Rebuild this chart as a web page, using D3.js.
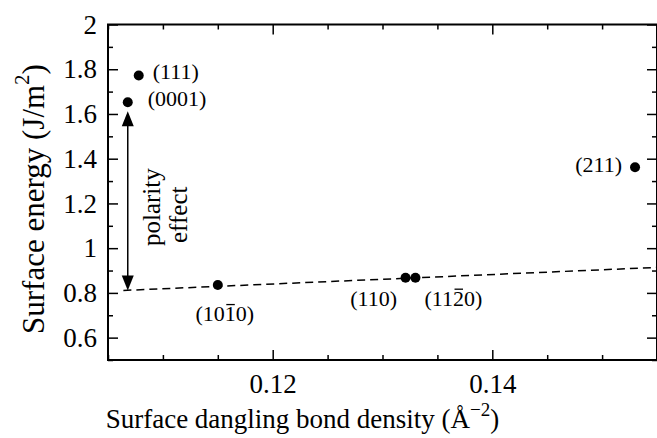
<!DOCTYPE html>
<html><head><meta charset="utf-8">
<script src="https://cdn.jsdelivr.net/npm/d3@7"></script>
<style>
body{margin:0;background:#fff;}
svg text{font-family:"Liberation Serif","Times New Roman",serif;fill:#000;}
</style></head>
<body>
<svg id="chart" width="657" height="438"></svg>
<script>
// Data
const surfaces = ["(111)", "(0001)", "(211)", "(1010)", "(110)", "(1120)"];
const overlineIndex = [-1, -1, -1, 3, -1, 3]; // character carrying the bar
const bondDensity = [0.1078, 0.1068, 0.1530, 0.1150, 0.1321, 0.1330];
const surfaceEnergy = [1.772, 1.652, 1.362, 0.835, 0.868, 0.868];
const fitX = [0.1064, 0.155];
const fitY = [0.811, 0.914];
const arrowX = 0.1068;
const arrowY = [1.612, 0.811];
const xMajorTicks = [0.12, 0.14];
const yMajorTicks = [0.6, 0.8, 1, 1.2, 1.4, 1.6, 1.8, 2];

const svg = d3.select("#chart");
const L = 108, R = 657, T = 24.5, B = 360;
const x = d3.scaleLinear().domain([0.105, 0.155]).range([L, R]);
const y = d3.scaleLinear().domain([0.5, 2]).range([B, T]);

const xMinor = d3.range(0.105, 0.1551, 0.005).map(v => +v.toFixed(3)).filter(v => !xMajorTicks.includes(v));
const yMinor = d3.range(0.5, 2.001, 0.1).map(v => +v.toFixed(1)).filter(v => !yMajorTicks.includes(v));

const fmt = d => (d === 1 || d === 2) ? String(d) : d3.format(".1f")(d);

// axes
svg.append("g").attr("transform", `translate(0,${B})`)
  .call(d3.axisBottom(x).tickValues(xMajorTicks).tickSize(-10).tickPadding(14).tickFormat(d3.format(".2f")));
svg.append("g").attr("transform", `translate(0,${B})`)
  .call(d3.axisBottom(x).tickValues(xMinor).tickSize(-5).tickFormat(""));
svg.append("g").attr("transform", `translate(0,${T})`)
  .call(d3.axisTop(x).tickValues(xMajorTicks).tickSize(-10).tickFormat(""));
svg.append("g").attr("transform", `translate(0,${T})`)
  .call(d3.axisTop(x).tickValues(xMinor).tickSize(-5).tickFormat(""));
svg.append("g").attr("transform", `translate(${L},0)`)
  .call(d3.axisLeft(y).tickValues(yMajorTicks).tickSize(-10).tickPadding(11).tickFormat(fmt));
svg.append("g").attr("transform", `translate(${L},0)`)
  .call(d3.axisLeft(y).tickValues(yMinor).tickSize(-5).tickFormat(""));
svg.append("g").attr("transform", `translate(${R},0)`)
  .call(d3.axisRight(y).tickValues(yMajorTicks).tickSize(-10).tickFormat(""));
svg.append("g").attr("transform", `translate(${R},0)`)
  .call(d3.axisRight(y).tickValues(yMinor).tickSize(-5).tickFormat(""));

svg.selectAll(".domain").remove();
svg.selectAll(".tick line").attr("stroke", "#000").attr("stroke-width", 1.5);
svg.selectAll(".tick text").attr("font-size", 27).attr("font-family", "Liberation Serif");

// frame
svg.append("rect").attr("x", L).attr("y", T).attr("width", R - L).attr("height", B - T)
  .attr("fill", "none").attr("stroke", "#000").attr("stroke-width", 2);

// fit line
svg.append("line")
  .attr("x1", x(fitX[0])).attr("y1", y(fitY[0]))
  .attr("x2", x(fitX[1])).attr("y2", y(fitY[1]))
  .attr("stroke", "#000").attr("stroke-width", 1.5).attr("stroke-dasharray", "8,5");

// arrow
const ax = x(arrowX), ay1 = y(arrowY[0]), ay2 = y(arrowY[1]);
svg.append("line").attr("x1", ax).attr("x2", ax).attr("y1", ay1 + 12).attr("y2", ay2 - 12)
  .attr("stroke", "#000").attr("stroke-width", 1.5);
svg.append("path").attr("d", `M${ax},${ay1} L${ax-6},${ay1+15} L${ax+6},${ay1+15} Z`).attr("fill", "#000");
svg.append("path").attr("d", `M${ax},${ay2} L${ax-6},${ay2-15} L${ax+6},${ay2-15} Z`).attr("fill", "#000");

// points
svg.selectAll("circle.pt").data(bondDensity).enter().append("circle")
  .attr("class", "pt").attr("cx", d => x(d)).attr("cy", (d, i) => y(surfaceEnergy[i]))
  .attr("r", 5).attr("fill", "#000");

// point labels
const labelPos = [
  {dx: 14, dy: 4, anchor: "start"},
  {dx: 20, dy: 4, anchor: "start"},
  {dx: -13, dy: 5, anchor: "end"},
  {dx: 7, dy: 36, anchor: "middle"},
  {dx: -32, dy: 28, anchor: "middle"},
  {dx: 38, dy: 28, anchor: "middle"}
];
const LFS = 22;
surfaces.forEach((s, i) => {
  const p = labelPos[i];
  const tx = x(bondDensity[i]) + p.dx, ty = y(surfaceEnergy[i]) + p.dy;
  const t = svg.append("text").attr("x", tx).attr("y", ty)
    .attr("text-anchor", p.anchor).attr("font-size", LFS).text(s);
  const k = overlineIndex[i];
  if (k >= 0) {
    const e = t.node().getExtentOfChar(k);
    svg.append("line").attr("x1", e.x + 1.5).attr("x2", e.x + e.width - 1)
      .attr("y1", ty - 16.5).attr("y2", ty - 16.5)
      .attr("stroke", "#000").attr("stroke-width", 1.3);
  }
});

// polarity effect text
svg.append("text").attr("transform", "translate(160,246) rotate(-90)")
  .attr("text-anchor", "start").attr("font-size", 25).text("polarity");
svg.append("text").attr("transform", "translate(187,243) rotate(-90)")
  .attr("text-anchor", "start").attr("font-size", 25).text("effect");

// axis labels
const xl = svg.append("text").attr("font-size", 27);
xl.append("tspan").text("Surface dangling bond density (Å");
xl.append("tspan").attr("font-size", 19).attr("dy", -12).text("−2");
xl.append("tspan").attr("dy", 12).text(")");
const xw = xl.node().getBBox().width;
xl.attr("x", 302.5 - xw / 2).attr("y", 428);

const yl = svg.append("text").attr("font-size", 31);
yl.append("tspan").text("Surface energy (J/m");
yl.append("tspan").attr("font-size", 21).attr("dy", -15).text("2");
yl.append("tspan").attr("dy", 15).text(")");
const yw = yl.node().getBBox().width;
yl.attr("transform", `translate(44,${199 + yw / 2}) rotate(-90)`);
</script>
</body></html>
